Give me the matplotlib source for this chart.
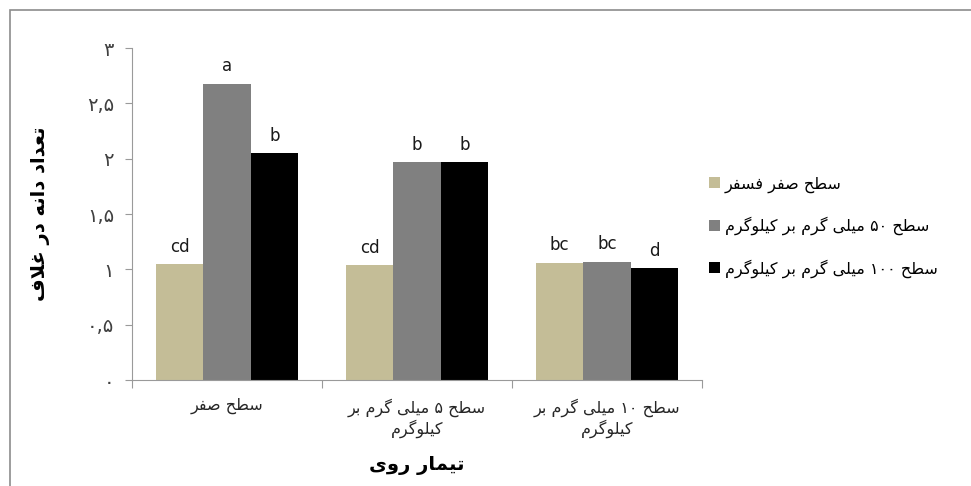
import re
import matplotlib
matplotlib.use('Agg')
import matplotlib.pyplot as plt
from matplotlib.patches import Rectangle

plt.rcParams['font.family'] = ['DejaVu Sans']

# data
groups = ['سطح صفر', 'سطح ۵ میلی گرم بر\nکیلوگرم', 'سطح ۱۰ میلی گرم بر\nکیلوگرم']
series = ['سطح صفر فسفر', 'سطح ۵۰ میلی گرم بر کیلوگرم', 'سطح ۱۰۰ میلی گرم بر کیلوگرم']
p0 = [1.05, 1.04, 1.06]
p50 = [2.68, 1.97, 1.07]
p100 = [2.05, 1.97, 1.01]
p0_letters = ['cd', 'cd', 'bc']
p50_letters = ['a', 'b', 'bc']
p100_letters = ['b', 'b', 'd']
yticks = [0, 0.5, 1, 1.5, 2, 2.5, 3]
ytick_labels = ['۰', '۰,۵', '۱', '۱,۵', '۲', '۲,۵', '۳']
ylabel = 'تعداد دانه در غلاف'
xlabel = 'تیمار روی'
colors = ['#c4bd97', '#808080', '#000000']

# matplotlib does no arabic shaping, so pick presentation forms by hand
# (isolated, final, initial, medial)
FORMS = {
   'ا': ('\uFE8D', '\uFE8E', None, None),
   'ب': ('\uFE8F', '\uFE90', '\uFE91', '\uFE92'),
   'ت': ('\uFE95', '\uFE96', '\uFE97', '\uFE98'),
   'ح': ('\uFEA1', '\uFEA2', '\uFEA3', '\uFEA4'),
   'د': ('\uFEA9', '\uFEAA', None, None),
   'ر': ('\uFEAD', '\uFEAE', None, None),
   'س': ('\uFEB1', '\uFEB2', '\uFEB3', '\uFEB4'),
   'ص': ('\uFEB9', '\uFEBA', '\uFEBB', '\uFEBC'),
   'ط': ('\uFEC1', '\uFEC2', '\uFEC3', '\uFEC4'),
   'ع': ('\uFEC9', '\uFECA', '\uFECB', '\uFECC'),
   'غ': ('\uFECD', '\uFECE', '\uFECF', '\uFED0'),
   'ف': ('\uFED1', '\uFED2', '\uFED3', '\uFED4'),
   'ل': ('\uFEDD', '\uFEDE', '\uFEDF', '\uFEE0'),
   'م': ('\uFEE1', '\uFEE2', '\uFEE3', '\uFEE4'),
   'ن': ('\uFEE5', '\uFEE6', '\uFEE7', '\uFEE8'),
   'ه': ('\uFEE9', '\uFEEA', '\uFEEB', '\uFEEC'),
   'و': ('\uFEED', '\uFEEE', None, None),
   'ی': ('\uFBFC', '\uFBFD', '\uFBFE', '\uFBFF'),
   'ک': ('\uFB8E', '\uFB8F', '\uFB90', '\uFB91'),
   'گ': ('\uFB92', '\uFB93', '\uFB94', '\uFB95'),
}

def joins_left(c):
   return c in FORMS and FORMS[c][2] is not None

def shape_line(s):
   out = []
   i = 0
   while i < len(s):
      c = s[i]
      prev = s[i - 1] if i > 0 else ''
      if c not in FORMS:
         out.append(c)
         i += 1
         continue
      pj = joins_left(prev)
      if c == 'ل' and i + 1 < len(s) and s[i + 1] == 'ا':
         out.append('\uFEFC' if pj else '\uFEFB')
         i += 2
         continue
      nxt = s[i + 1] if i + 1 < len(s) else ''
      nj = joins_left(c) and nxt in FORMS
      f = FORMS[c]
      if pj and nj:
         out.append(f[3])
      elif pj:
         out.append(f[1])
      elif nj:
         out.append(f[2])
      else:
         out.append(f[0])
      i += 1
   tokens = re.findall(r'[۰-۹0-9,]+|.', ''.join(out))
   return ''.join(reversed(tokens))

def fa(s):
   return '\n'.join(shape_line(line) for line in s.split('\n'))

fig = plt.figure(figsize=(9.71, 4.86), dpi=100)
ax = fig.add_axes([0.136, 0.218, 0.587, 0.683])

x = range(len(groups))
width = 0.25
all_vals = [p0, p50, p100]
all_letters = [p0_letters, p50_letters, p100_letters]
for k in range(3):
   xs = [i + (k - 1) * width for i in x]
   ax.bar(xs, all_vals[k], width, color=colors[k], label=fa(series[k]))
   for xi, v, t in zip(xs, all_vals[k], all_letters[k]):
      ax.annotate(t, (xi, v), xytext=(0, 6), textcoords='offset points',
                  ha='center', va='bottom', fontsize=12, color='#1a1a1a')

ax.set_xlim(-0.5, 2.5)
ax.set_ylim(0, 3)
ax.set_yticks(yticks)
ax.set_yticklabels(ytick_labels, fontsize=14, color='#404040')
ax.set_xticks([-0.5, 0.5, 1.5, 2.5])
ax.set_xticklabels([])
ax.set_xticks(list(x), minor=True)
ax.set_xticklabels([fa(g) for g in groups], minor=True, fontsize=11.5, color='#262626')
ax.tick_params(axis='x', which='minor', length=0, pad=13)
ax.tick_params(axis='x', which='major', length=6, color='#9a9a9a', direction='out')
ax.tick_params(axis='y', length=5, color='#9a9a9a', pad=8)

for s in ['top', 'right']:
   ax.spines[s].set_visible(False)
for s in ['left', 'bottom']:
   ax.spines[s].set_color('#9a9a9a')

ax.set_ylabel(fa(ylabel), fontsize=14, fontweight='bold', va='center')
ax.yaxis.set_label_coords(-0.16, 0.5)
ax.set_xlabel(fa(xlabel), fontsize=14, fontweight='bold', va='center')
ax.xaxis.set_label_coords(0.5, -0.256)

fig.legend(loc='center left', bbox_to_anchor=(0.73, 0.533), frameon=False,
           fontsize=11.5, handlelength=0.7, handleheight=0.7, handletextpad=0.3,
           labelspacing=1.5, borderpad=0, borderaxespad=0)

# outer chart frame, only top and left edges show in the crop
fig.patches.append(Rectangle((10 / 971, -0.1), 1.2, 1.1 - 10 / 486, transform=fig.transFigure,
                             fill=False, edgecolor='#8c8c8c', lw=1.2))

plt.savefig('out.png', dpi=100)
